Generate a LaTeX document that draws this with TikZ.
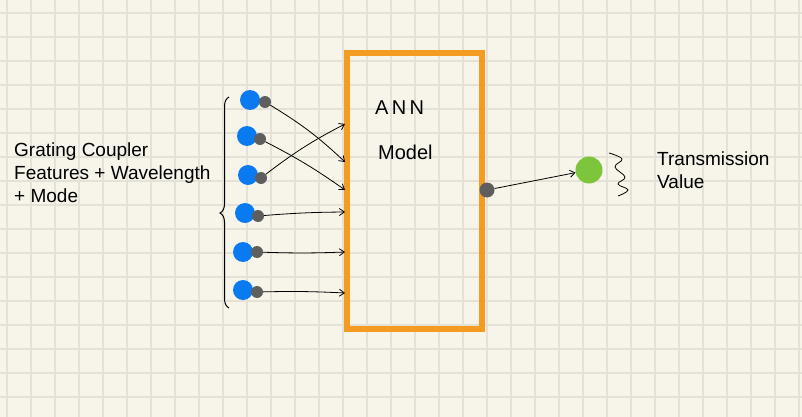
\documentclass[tikz,border=0pt]{standalone}
\usepackage{fontspec}
\setmainfont{Liberation Sans}
\usetikzlibrary{arrows.meta,decorations.pathreplacing}

\definecolor{paper}{HTML}{F7F5EA}
\definecolor{gridcol}{HTML}{E4E2D7}
\definecolor{annorange}{HTML}{F49B22}
\definecolor{inblue}{HTML}{0A7AF0}
\definecolor{portgray}{HTML}{5E5E5E}
\definecolor{outgreen}{HTML}{7DC53A}

\tikzset{
  gridline/.style={gridcol, line width=1.6pt},
  inbulb/.style={circle, fill=inblue, minimum size=20pt, inner sep=0pt},
  port/.style={circle, fill=portgray, minimum size=12pt, inner sep=0pt},
  wire/.style={black, line width=0.8pt, -{Straight Barb[length=5pt,width=7pt]}},
  label/.style={font=\fontsize{19}{23}\selectfont, align=left, inner sep=0pt},
  handtext/.style={font=\fontsize{20}{24}\selectfont, anchor=base west, inner sep=0pt}
}

\begin{document}
\begin{tikzpicture}[x=1pt, y=-1pt]
    \fill[paper] (0,0) rectangle (802,417);
    \useasboundingbox (0,0) rectangle (802,417);
    \foreach \gx in {7,31,...,799} \draw[gridline] (\gx,0) -- (\gx,417);
    \foreach \gy in {13,37,...,413} \draw[gridline] (0,\gy) -- (802,\gy);

    % ANN box
    \node[draw=annorange, line width=5.5pt, minimum width=135pt, minimum height=276pt] (ann) at (414.5,191) {};
    \node[handtext] (annname) at (375,114) {A\,N\,N};
    \node[handtext] (modelname) at (378,159) {Model};

    % inputs
    \foreach \i/\bx/\by/\px/\py in {1/250/100/265/102, 2/247/136/260/139, 3/248/175/261/178,
                                    4/245/213/258/216, 5/243/252/257/252, 6/243/290/257/292} {
        \node[inbulb] (in\i) at (\bx,\by) {};
        \node[port] (p\i) at (\px,\py) {};
    }
    \coordinate (t1) at (345,162);
    \coordinate (t2) at (345,190);
    \coordinate (t3) at (345,124);
    \coordinate (t4) at (345,212);
    \coordinate (t5) at (345,252);
    \coordinate (t6) at (345,293);
    \draw[wire] (p1) to[bend left=6] (t1);
    \draw[wire] (p2) to[bend left=4] (t2);
    \draw[wire] (p3) to[bend left=5] (t3);
    \draw[wire] (p4) to[bend left=2] (t4);
    \draw[wire] (p5) to[bend right=2] (t5);
    \draw[wire] (p6) to[bend left=2] (t6);

    % brace round the inputs
    \draw[line width=1pt, decorate, decoration={brace, amplitude=9pt, aspect=0.45}] (229,308) -- (229,97);

    \node[label, anchor=north west] (inlabel) at (14,143) {Grating Coupler\\Features + Wavelength\\+ Mode};

    % output
    \node[port, minimum size=15pt] (out) at (487,190) {};
    \node[circle, fill=outgreen, minimum size=27pt, inner sep=0pt] (val) at (589,170) {};
    \draw[wire] (out) -- (val);
    \draw[line width=0.8pt] plot[smooth, tension=0.7] coordinates {(609,153) (622,159) (615,167) (625,177) (618,184) (628,190) (618,196)};
    \node[label, anchor=north west] (outlabel) at (657,152) {Transmission\\Value};
\end{tikzpicture}
\end{document}
